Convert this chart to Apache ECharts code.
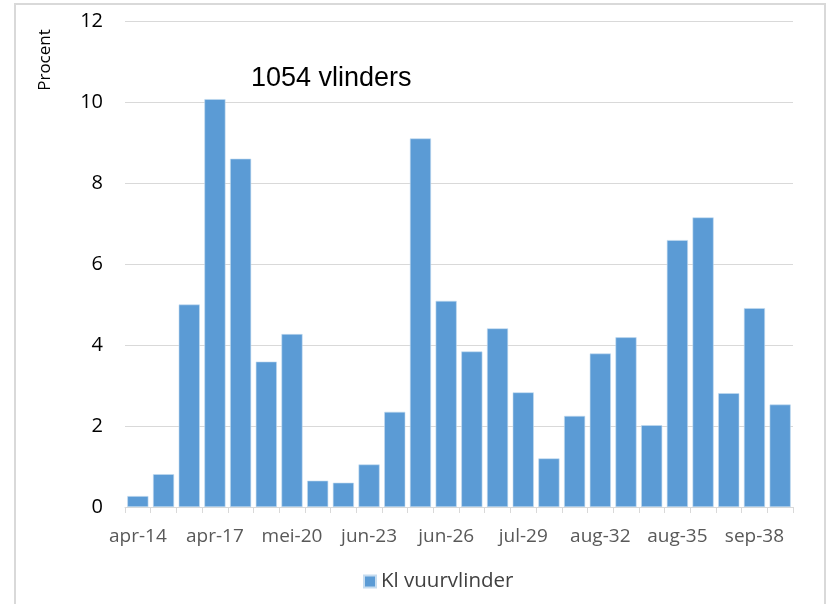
<!DOCTYPE html>
<html>
<head>
<meta charset="utf-8">
<script src="https://cdn.jsdelivr.net/npm/echarts@6/dist/echarts.min.js"></script>
<style>
  html, body { margin: 0; padding: 0; background: #fff; }
  #frame { position: absolute; left: 14px; top: 3px; width: 812px; height: 620px; border: 2px solid #d9d9d9; box-sizing: border-box; }
  #chart { position: absolute; left: 0; top: 0; width: 830px; height: 604px; }
</style>
</head>
<body>
<div id="frame"></div>
<div id="chart"></div>
<script>
// weeknummers met maand
const weeks = [14, 15, 16, 17, 18, 19, 20, 21, 22, 23, 24, 25, 26, 27, 28, 29, 30, 31, 32, 33, 34, 35, 36, 37, 38, 39];
const months = ['apr', 'apr', 'apr', 'apr', 'mei', 'mei', 'mei', 'mei', 'mei', 'jun', 'jun', 'jun', 'jun',
  'jul', 'jul', 'jul', 'jul', 'aug', 'aug', 'aug', 'aug', 'aug', 'sep', 'sep', 'sep', 'sep'];
const categories = weeks.map((w, i) => months[i] + '-' + w);
// percentage vlinders per week
const procent = [0.27, 0.81, 5.0, 10.07, 8.6, 3.59, 4.27, 0.65, 0.6, 1.05, 2.35, 9.1, 5.09,
  3.84, 4.41, 2.83, 1.2, 2.25, 3.79, 4.19, 2.02, 6.59, 7.15, 2.81, 4.91, 2.53];
const seriesName = 'Kl vuurvlinder';
const titleText = '1054 vlinders';
const yName = 'Procent';

const chart = echarts.init(document.getElementById('chart'));
chart.setOption({
  animation: false,
  title: {
    text: titleText,
    left: 246,
    top: 60,
    textStyle: { fontFamily: 'Liberation Sans', fontSize: 27, fontWeight: 'normal', color: '#000' }
  },
  // y-as titel, gedraaid
  graphic: [{
    type: 'text',
    x: 45,
    y: 60,
    rotation: Math.PI / 2,
    style: {
      text: yName,
      fontFamily: 'Open Sans',
      fontSize: 17,
      fill: '#000',
      align: 'center',
      verticalAlign: 'middle'
    }
  }],
  legend: {
    top: 566,
    left: 358,
    itemWidth: 12,
    itemHeight: 12,
    itemGap: 6,
    icon: 'rect',
    textStyle: { fontFamily: 'Open Sans', fontSize: 20.5, color: '#404040' },
    data: [seriesName]
  },
  grid: { left: 125, right: 37, top: 21, bottom: 97 },
  xAxis: {
    type: 'category',
    data: categories,
    axisLine: { lineStyle: { color: '#d9d9d9', width: 1 } },
    axisTick: { show: true, interval: 0, length: 6, lineStyle: { color: '#d9d9d9' } },
    axisLabel: { interval: 2, margin: 20, fontFamily: 'Open Sans', fontSize: 19, color: '#595959' }
  },
  yAxis: {
    type: 'value',
    min: 0,
    max: 12,
    interval: 2,
    axisLine: { show: false },
    axisTick: { show: false },
    axisLabel: { margin: 22, fontFamily: 'Open Sans', fontSize: 20, color: '#000' },
    splitLine: { lineStyle: { color: '#d9d9d9', width: 1 } }
  },
  series: [{
    name: seriesName,
    type: 'bar',
    data: procent,
    barCategoryGap: '18%',
    itemStyle: { color: '#5b9bd5', borderColor: '#c5dcf0', borderWidth: 0.6 }
  }]
});
</script>
</body>
</html>
